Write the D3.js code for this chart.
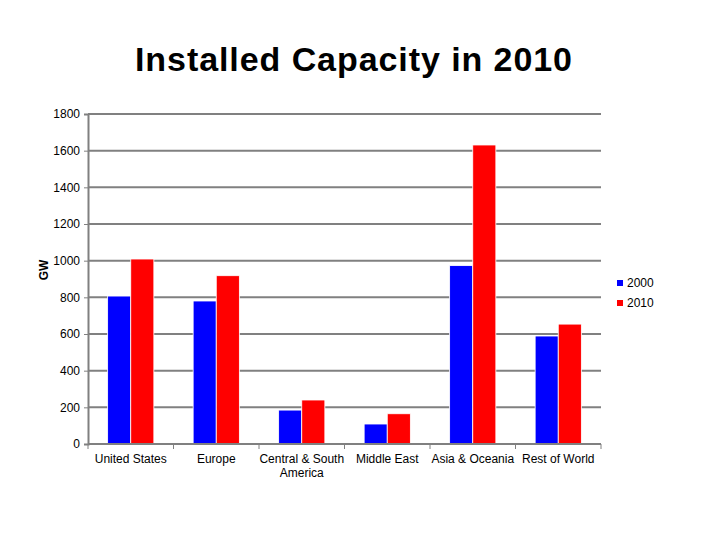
<!DOCTYPE html>
<html><head><meta charset="utf-8">
<script src="https://cdn.jsdelivr.net/npm/d3@7"></script>
<style>body{margin:0;background:#fff}svg{font-family:"Liberation Sans",Arial,sans-serif}</style>
</head><body><svg id="c" width="720" height="540"></svg>
<script>
const categories = ["United States","Europe","Central & South America","Middle East","Asia & Oceania","Rest of World"];
const series = ["2000","2010"];
const values2000 = [807, 780, 185, 109, 973, 589];
const values2010 = [1009, 918, 240, 165, 1631, 654];
const yTicks = [0,200,400,600,800,1000,1200,1400,1600,1800];
const colors = ["#0000ff","#ff0000"];

const svg = d3.select("#c");
const m = {l:88, r:601, t:114, b:444};
const x = d3.scaleBand().domain(categories).range([m.l, m.r]);
const xs = d3.scaleBand().domain(series).range([0, x.bandwidth()]).paddingInner(0).paddingOuter(0.85);
const y = d3.scaleLinear().domain([0,1800]).range([m.b, m.t]);

svg.append("text").attr("x",135).attr("y",71)
  .attr("font-size",34).attr("font-weight","bold")
  .attr("textLength",437).attr("lengthAdjust","spacing").text("Installed Capacity in 2010");

// gridlines
svg.append("g").selectAll("line").data(yTicks.filter(d=>d>0)).join("line")
  .attr("x1",m.l).attr("x2",m.r).attr("y1",d=>y(d)).attr("y2",d=>y(d))
  .attr("stroke","#808080").attr("stroke-width",2);

// y axis
const ya = svg.append("g").attr("transform",`translate(${m.l},0)`)
  .call(d3.axisLeft(y).tickValues(yTicks).tickFormat(d3.format("d")).tickSize(4).tickPadding(4));
ya.select(".domain").attr("stroke","#808080").attr("stroke-width",2);
ya.selectAll(".tick line").attr("stroke","#808080").attr("stroke-width",1);
ya.selectAll(".tick text").attr("font-size",12).attr("fill","#000").attr("font-family","Liberation Sans, Arial, sans-serif");

// bars
const data = categories.map((c,i)=>({c, v:[values2000[i], values2010[i]]}));
svg.append("g").selectAll("g").data(data).join("g")
  .attr("transform",d=>`translate(${x(d.c)},0)`)
  .selectAll("rect").data(d=>d.v.map((v,j)=>({s:series[j], v, j}))).join("rect")
  .attr("x",d=>xs(d.s)).attr("width",xs.bandwidth())
  .attr("y",d=>y(d.v)).attr("height",d=>y(0)-y(d.v))
  .attr("fill",d=>colors[d.j]).attr("stroke","#fff").attr("stroke-width",0.8);

// x axis
const xa = svg.append("g").attr("transform",`translate(0,${m.b})`);
xa.append("line").attr("x1",m.l).attr("x2",m.r).attr("stroke","#808080").attr("stroke-width",2);
const bounds = d3.range(categories.length+1).map(i=>m.l + i*x.step());
xa.selectAll("line.tk").data(bounds).join("line").attr("class","tk")
  .attr("x1",d=>d).attr("x2",d=>d).attr("y1",0).attr("y2",5).attr("stroke","#808080").attr("stroke-width",1);
const labelLines = {"Central & South America":["Central & South","America"]};
xa.selectAll("text").data(categories).join("text")
  .attr("text-anchor","middle").attr("font-size",12)
  .attr("transform",d=>`translate(${x(d)+x.bandwidth()/2},19)`)
  .each(function(d){
    const lines = labelLines[d] || [d];
    d3.select(this).selectAll("tspan").data(lines).join("tspan")
      .attr("x",0).attr("dy",(l,i)=>i?14:0).text(l=>l);
  });

// y label
svg.append("text").attr("transform","translate(48,270) rotate(-90)")
  .attr("text-anchor","middle").attr("font-size",12).attr("font-weight","bold").text("GW");

// legend
const lg = svg.append("g").selectAll("g").data(series).join("g")
  .attr("transform",(d,i)=>`translate(617,${284+i*20})`);
lg.append("rect").attr("x",0).attr("y",-4).attr("width",6).attr("height",6).attr("fill",(d,i)=>colors[i]);
lg.append("text").attr("x",10).attr("y",3).attr("font-size",12).text(d=>d);
</script></body></html>
